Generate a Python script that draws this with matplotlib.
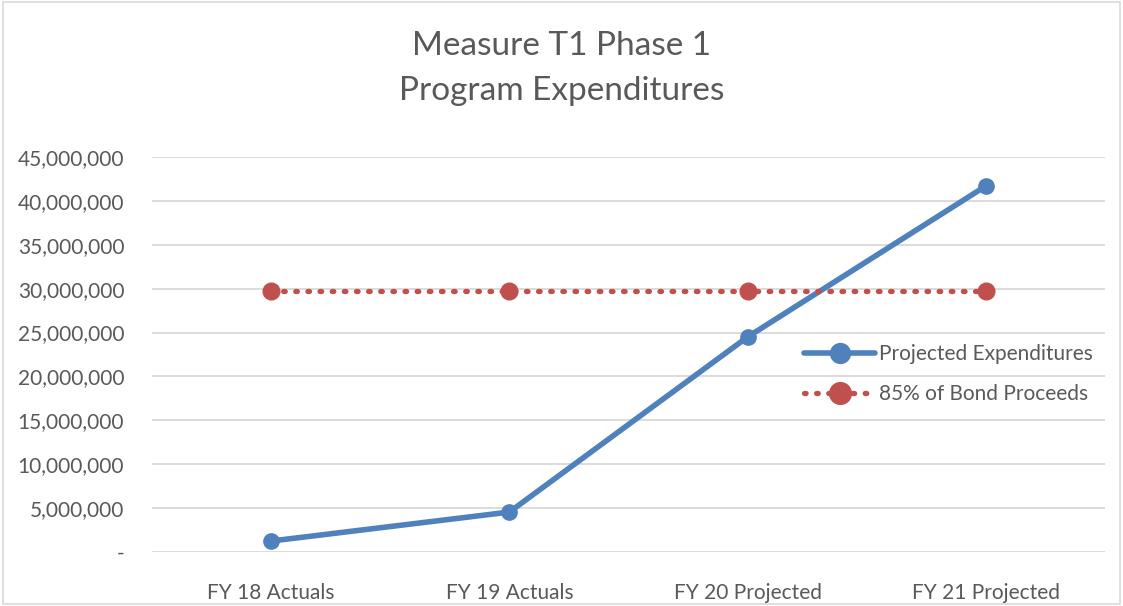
import matplotlib.pyplot as plt
from matplotlib.ticker import FuncFormatter
from matplotlib.patches import Rectangle

categories = ['FY 18 Actuals', 'FY 19 Actuals', 'FY 20 Projected', 'FY 21 Projected']
projected = [1250000, 4550000, 24500000, 41700000]
bond_85 = [29750000, 29750000, 29750000, 29750000]

text_color = '#595959'
plt.rcParams['font.family'] = ['Lato', 'DejaVu Sans']

fig = plt.figure(figsize=(11.23, 6.06), dpi=100)
ax = fig.add_axes([152 / 1123, 1 - 552 / 606, 953 / 1123, 395 / 606])

x = range(len(categories))
ax.plot(x, projected, color='#4f81bd', lw=4, marker='o', ms=11,
        solid_capstyle='round', label='Projected Expenditures', zorder=3)
ax.plot(x, bond_85, color='#c0504d', lw=3.8, ls=(0, (0.3, 2.0)), dash_capstyle='round',
        marker='o', ms=12, label='85% of Bond Proceeds', zorder=3)

ax.set_xlim(-0.5, 3.5)
ax.set_ylim(0, 45000000)
ax.set_yticks(range(0, 45000001, 5000000))
ax.yaxis.set_major_formatter(FuncFormatter(lambda v, p: '-' if v == 0 else f'{v:,.0f}'))
ax.set_xticks(list(x))
ax.set_xticklabels(categories)
ax.grid(axis='y', color='#d9d9d9', lw=1.3)
ax.set_axisbelow(True)
for s in ax.spines.values():
    s.set_visible(False)
ax.tick_params(length=0, labelsize=15, colors=text_color)
ax.tick_params(axis='y', pad=20)
ax.tick_params(axis='x', pad=22)

fig.text(0.5, 1 - 46 / 606, 'Measure T1 Phase 1', ha='center', va='center',
         fontsize=24, color=text_color)
fig.text(0.5, 1 - 91 / 606, 'Program Expenditures', ha='center', va='center',
         fontsize=24, color=text_color)

leg = ax.legend(loc='center left', bbox_to_anchor=(0.665, 0.45), frameon=False,
                fontsize=15, labelcolor=text_color, handlelength=3.4,
                handletextpad=0.2, labelspacing=0.95, markerscale=1.3)

fig.patches.append(Rectangle((0.003, 0.003), 0.994, 0.994, transform=fig.transFigure,
                             fill=False, edgecolor='#d9d9d9', lw=1.2))

fig.savefig('out.png', dpi=100, facecolor='white')
